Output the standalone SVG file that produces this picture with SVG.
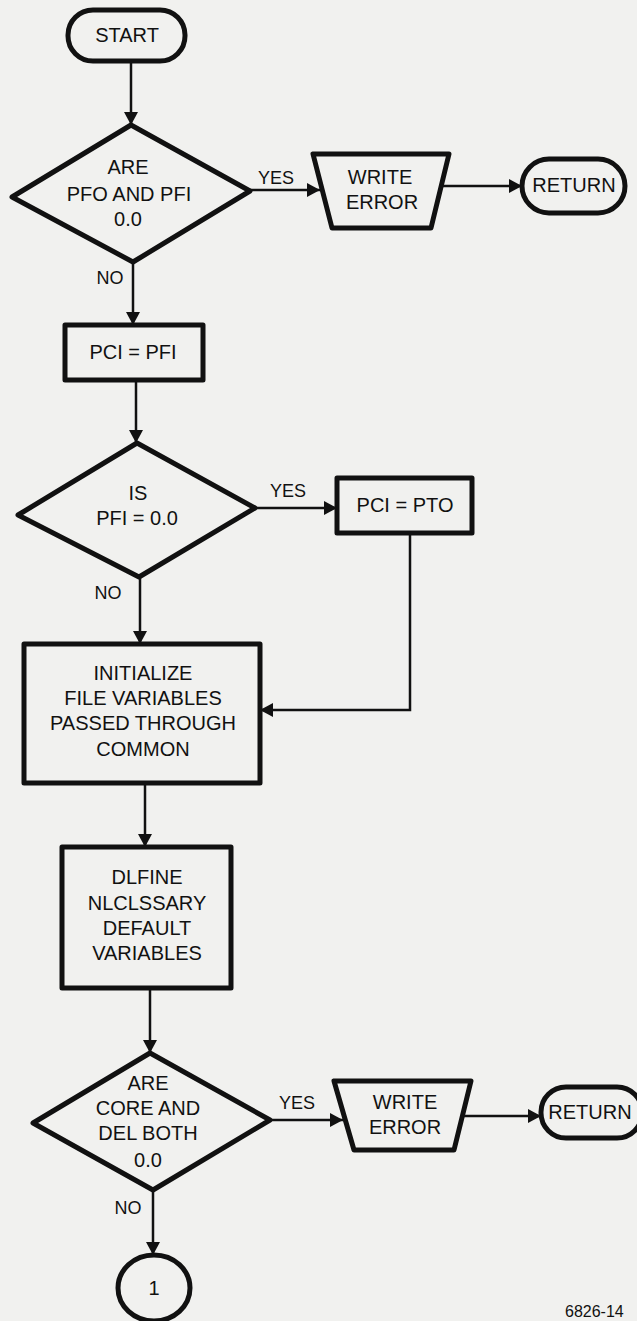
<svg xmlns="http://www.w3.org/2000/svg" width="637" height="1321" viewBox="0 0 637 1321">
<defs>
<marker id="ah" markerUnits="userSpaceOnUse" markerWidth="14" markerHeight="14" refX="13" refY="7" orient="auto">
<path d="M0,0 L13,7 L0,14 z" fill="#111"/>
</marker>
<style>
.n{fill:#f1f1ef;stroke:#111;stroke-width:5;stroke-linejoin:round}
.t{font-family:"Liberation Sans",Arial,sans-serif;font-size:20px;fill:#111;text-anchor:middle}
.l{font-family:"Liberation Sans",Arial,sans-serif;font-size:18px;fill:#111;text-anchor:middle}
.c{fill:none;stroke:#111;stroke-width:2.5;marker-end:url(#ah)}
</style>
</defs>
<rect width="637" height="1321" fill="#f1f1ef"/>
<g id="connectors">
<path class="c" d="M131,61 V125"/>
<path class="c" d="M250,190 H320"/>
<path class="c" d="M441,186 H522"/>
<path class="c" d="M133,262 V325"/>
<path class="c" d="M136,380 V443"/>
<path class="c" d="M255,508 H337"/>
<path class="c" d="M410,533 V710 H260"/>
<path class="c" d="M140,577 V644"/>
<path class="c" d="M145,783 V847"/>
<path class="c" d="M150,988 V1053"/>
<path class="c" d="M270,1120 H343"/>
<path class="c" d="M460,1116 H541"/>
<path class="c" d="M153,1190 V1255"/>
</g>
<g id="start"><rect class="n" x="68" y="10" width="117" height="51" rx="25"/><text class="t" x="127" y="42">START</text></g>
<g id="decision1"><polygon class="n" points="131,125 250,191 133,262 12,197"/>
<text class="t" x="128" y="174">ARE</text><text class="t" x="129" y="201">PFO AND PFI</text><text class="t" x="128" y="226">0.0</text></g>
<text class="l" x="276" y="184">YES</text>
<text class="l" x="110" y="284">NO</text>
<g id="write1"><polygon class="n" points="313,154 449,154 431,228 332,228"/>
<text class="t" x="380" y="184">WRITE</text><text class="t" x="382" y="209">ERROR</text></g>
<g id="return1"><rect class="n" x="522" y="159" width="103" height="54" rx="27"/><text class="t" x="574" y="192">RETURN</text></g>
<g id="pci_pfi"><rect class="n" x="65" y="325" width="138" height="55"/><text class="t" x="133" y="359">PCI = PFI</text></g>
<g id="decision2"><polygon class="n" points="137,443 255,508 139,577 18,515"/>
<text class="t" x="138" y="500">IS</text><text class="t" x="137" y="525">PFI = 0.0</text></g>
<text class="l" x="288" y="497">YES</text>
<text class="l" x="108" y="599">NO</text>
<g id="pci_pto"><rect class="n" x="337" y="478" width="135" height="55"/><text class="t" x="405" y="512">PCI = PTO</text></g>
<g id="initialize"><rect class="n" x="24" y="644" width="236" height="139"/>
<text class="t" x="143" y="680">INITIALIZE</text><text class="t" x="143" y="705">FILE VARIABLES</text><text class="t" x="143" y="730">PASSED THROUGH</text><text class="t" x="143" y="756">COMMON</text></g>
<g id="define"><rect class="n" x="62" y="847" width="169" height="141"/>
<text class="t" x="147" y="884">DLFINE</text><text class="t" x="147" y="910">NLCLSSARY</text><text class="t" x="147" y="935">DEFAULT</text><text class="t" x="147" y="960">VARIABLES</text></g>
<g id="decision3"><polygon class="n" points="150,1053 270,1120 153,1190 33,1123"/>
<text class="t" x="148" y="1090">ARE</text><text class="t" x="148" y="1115">CORE AND</text><text class="t" x="148" y="1140">DEL BOTH</text><text class="t" x="148" y="1167">0.0</text></g>
<text class="l" x="297" y="1109">YES</text>
<text class="l" x="128" y="1214">NO</text>
<g id="write2"><polygon class="n" points="334,1081 471,1081 454,1150 354,1150"/>
<text class="t" x="405" y="1109">WRITE</text><text class="t" x="405" y="1134">ERROR</text></g>
<g id="return2"><rect class="n" x="541" y="1087" width="101" height="51" rx="25"/><text class="t" x="590" y="1119">RETURN</text></g>
<g id="connector1"><ellipse class="n" cx="154" cy="1288" rx="36" ry="33"/><text class="t" x="154" y="1295">1</text></g>
<text x="565" y="1317" style="font-family:'Liberation Sans',Arial,sans-serif;font-size:16px;fill:#111">6826-14</text>
</svg>
